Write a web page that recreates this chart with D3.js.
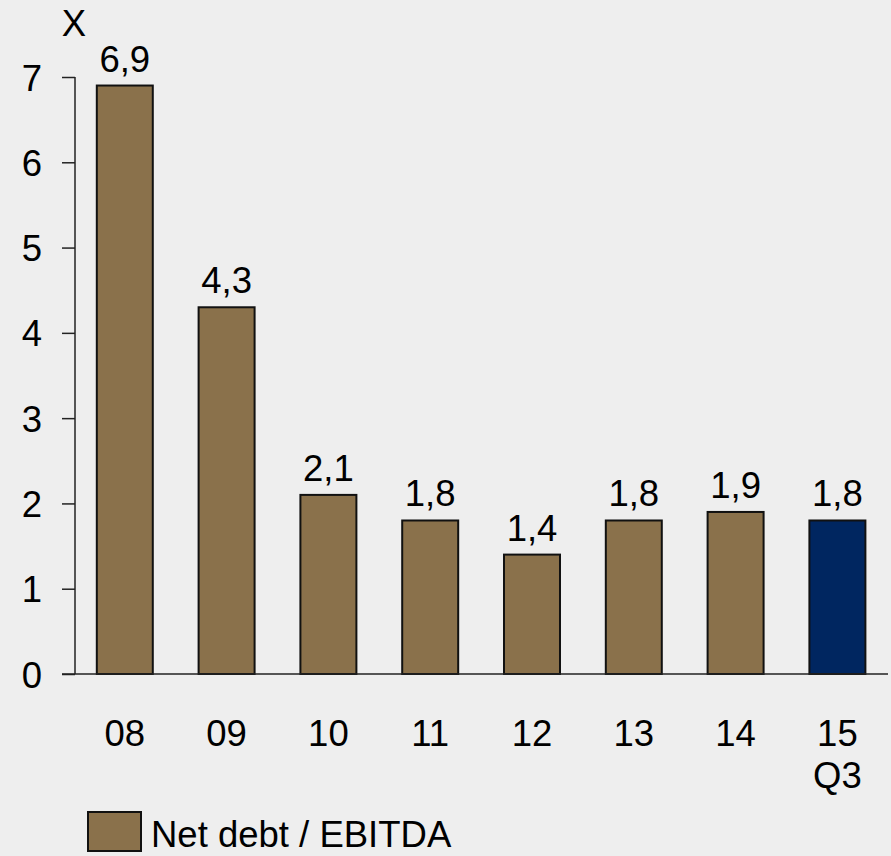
<!DOCTYPE html>
<html>
<head>
<meta charset="utf-8">
<script src="https://cdn.jsdelivr.net/npm/d3@7"></script>
<style>
  html, body { margin: 0; padding: 0; background: #eeeeee; }
  svg { display: block; font-family: "Liberation Sans", Arial, sans-serif; }
</style>
</head>
<body>
<div id="chart"></div>
<script>
// data
const categories = ['08', '09', '10', '11', '12', '13', '14', '15\nQ3'];
const values = [6.9, 4.3, 2.1, 1.8, 1.4, 1.8, 1.9, 1.8];
const valueLabels = ['6,9', '4,3', '2,1', '1,8', '1,4', '1,8', '1,9', '1,8'];
const yTicks = [0, 1, 2, 3, 4, 5, 6, 7];
const highlight = ['15\nQ3'];
const legendLabel = 'Net debt / EBITDA';

const width = 891;
const height = 856;
const fontSize = 36.5;

const svg = d3.select('#chart')
  .append('svg')
  .attr('width', width)
  .attr('height', height);

svg.append('rect')
  .attr('width', width)
  .attr('height', height)
  .attr('fill', '#eeeeee');

// scales
const xScale = d3.scaleBand()
  .domain(categories)
  .range([73.9, 888.3])
  .paddingInner(0.45)
  .paddingOuter(0.225);

const yScale = d3.scaleLinear()
  .domain([0, 7])
  .range([674, 77]);

// y axis
const yAxis = d3.axisLeft(yScale)
  .tickValues(yTicks)
  .tickSize(13)
  .tickPadding(20)
  .tickFormat(d3.format('d'));

const yG = svg.append('g')
  .attr('transform', 'translate(75,0)')
  .call(yAxis);

yG.select('.domain').attr('stroke', '#222').attr('stroke-width', 1.5)
  .attr('d', 'M0,' + yScale(7) + 'V' + yScale(0));
yG.selectAll('.tick line').attr('stroke', '#222').attr('stroke-width', 1.5);
yG.selectAll('.tick text')
  .attr('fill', '#000')
  .style('font-size', fontSize + 'px')
  .attr('dy', '0.36em');

// unit label
svg.append('text')
  .attr('x', 74)
  .attr('y', 36)
  .attr('text-anchor', 'middle')
  .style('font-size', fontSize + 'px')
  .text('X');

// bars
svg.selectAll('.bar')
  .data(categories)
  .join('rect')
  .attr('class', 'bar')
  .attr('x', d => xScale(d))
  .attr('width', xScale.bandwidth())
  .attr('y', (d, i) => yScale(values[i]))
  .attr('height', (d, i) => yScale(0) - yScale(values[i]))
  .attr('fill', d => highlight.includes(d) ? '#002660' : '#8a714b')
  .attr('stroke', '#111')
  .attr('stroke-width', 2);

// baseline
svg.append('line')
  .attr('x1', 62)
  .attr('x2', 888)
  .attr('y1', yScale(0))
  .attr('y2', yScale(0))
  .attr('stroke', '#222')
  .attr('stroke-width', 1.5);

// value labels
svg.selectAll('.val')
  .data(categories)
  .join('text')
  .attr('class', 'val')
  .attr('x', d => xScale(d) + xScale.bandwidth() / 2)
  .attr('y', (d, i) => yScale(values[i]) - 14)
  .attr('text-anchor', 'middle')
  .style('font-size', fontSize + 'px')
  .text((d, i) => valueLabels[i]);

// x labels
const xl = svg.selectAll('.xl')
  .data(categories)
  .join('text')
  .attr('class', 'xl')
  .attr('x', d => xScale(d) + xScale.bandwidth() / 2)
  .attr('y', 746)
  .attr('text-anchor', 'middle')
  .style('font-size', fontSize + 'px');

xl.selectAll('tspan')
  .data(d => d.split('\n').map(s => ({s, x: xScale(d) + xScale.bandwidth() / 2})))
  .join('tspan')
  .attr('x', t => t.x)
  .attr('dy', (t, i) => i === 0 ? 0 : 42)
  .text(t => t.s);

// legend
svg.append('rect')
  .attr('x', 88)
  .attr('y', 812)
  .attr('width', 53)
  .attr('height', 39)
  .attr('fill', '#8a714b')
  .attr('stroke', '#111')
  .attr('stroke-width', 2);

svg.append('text')
  .attr('x', 151)
  .attr('y', 847)
  .style('font-size', fontSize + 'px')
  .text(legendLabel);
</script>
</body>
</html>
